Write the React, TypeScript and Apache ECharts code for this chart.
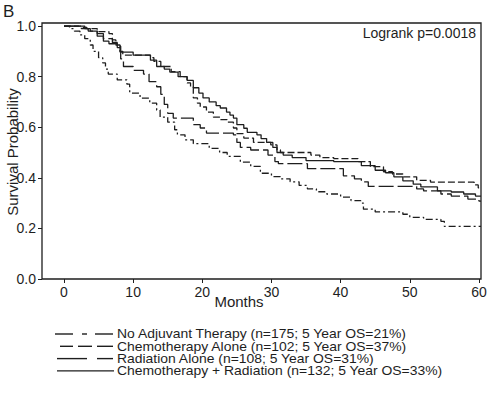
import React, { useEffect, useRef } from "react";
import * as echarts from "echarts";

// Kaplan-Meier step points: [months, survival probability after event]
const noAdjuvant: [number, number][] = [
  [0, 1], [0.8, 0.99], [1.5, 0.98], [2.3, 0.965], [3, 0.95], [3.8, 0.925], [4.2, 0.9],
  [5, 0.875], [5.6, 0.854], [6, 0.83], [6.4, 0.81], [7.7, 0.787], [9.1, 0.77], [9.5, 0.735],
  [11, 0.715], [12.4, 0.695], [13.4, 0.668], [13.9, 0.64], [15, 0.62], [16, 0.59],
  [16.4, 0.57], [17.5, 0.55], [18.7, 0.535], [21, 0.516], [22.5, 0.5], [23.6, 0.485],
  [25.5, 0.462], [27, 0.445], [28.4, 0.418], [30, 0.405], [31.3, 0.396], [32.7, 0.384],
  [34, 0.37], [35.2, 0.356], [36.5, 0.345], [38, 0.336], [40, 0.324], [41.5, 0.31],
  [42.9, 0.3], [43.3, 0.276], [45, 0.265], [49, 0.256], [50, 0.244], [52, 0.236],
  [54.5, 0.228], [55, 0.208], [60.3, 0.208],
];

const chemoAlone: [number, number][] = [
  [0, 1], [2.5, 0.995], [3.3, 0.99], [4.8, 0.978], [6.5, 0.97], [7, 0.945], [7.5, 0.925],
  [8.1, 0.9], [8.5, 0.885], [12.5, 0.875], [13, 0.86], [14, 0.84], [15.5, 0.82],
  [16.8, 0.8], [17.8, 0.775], [18.3, 0.76], [18.7, 0.716], [19.3, 0.695], [19.7, 0.68],
  [20.6, 0.66], [21.6, 0.64], [22.6, 0.63], [23.6, 0.62], [24.5, 0.597], [25, 0.575],
  [26, 0.557], [27.4, 0.54], [29.9, 0.53], [30.8, 0.51], [31.3, 0.5], [35.7, 0.49],
  [37, 0.48], [39, 0.476], [42.5, 0.464], [44.3, 0.444], [46.2, 0.424], [47.5, 0.415],
  [49, 0.404], [51, 0.39], [53, 0.383], [59.3, 0.372], [59.9, 0.36], [60.3, 0.36],
];

const radiationAlone: [number, number][] = [
  [0, 1], [2.5, 0.99], [3.5, 0.98], [4.8, 0.97], [5.7, 0.95], [7, 0.935], [7.7, 0.92],
  [8.2, 0.87], [8.6, 0.84], [10, 0.825], [11.5, 0.81], [12.3, 0.78], [13.4, 0.76],
  [14, 0.73], [14.5, 0.69], [15, 0.655], [15.8, 0.636], [18.7, 0.61], [19.7, 0.597],
  [20.6, 0.577], [24.5, 0.57], [25, 0.54], [25.5, 0.52], [27, 0.51], [29.5, 0.49],
  [30.5, 0.464], [31, 0.456], [35.2, 0.436], [40.4, 0.408], [42, 0.396], [43, 0.384],
  [44, 0.366], [51, 0.356], [52, 0.348], [54.5, 0.336], [56, 0.328], [58.4, 0.316],
  [60, 0.308], [60.3, 0.308],
];

const chemoRadiation: [number, number][] = [
  [0, 1], [3, 0.99], [3.8, 0.98], [4.8, 0.96], [5.7, 0.94], [6.5, 0.93], [7.7, 0.915],
  [8.1, 0.897], [10, 0.885], [12.5, 0.865], [13.4, 0.84], [14.5, 0.83], [15.3, 0.818],
  [16.5, 0.8], [17.8, 0.785], [18.7, 0.756], [19.5, 0.735], [20.1, 0.716], [21, 0.7],
  [22, 0.685], [22.6, 0.676], [23.5, 0.66], [24, 0.648], [24.5, 0.636], [25, 0.61],
  [26, 0.596], [26.5, 0.58], [27.9, 0.57], [28.5, 0.555], [29.3, 0.54], [30.2, 0.52],
  [30.8, 0.5], [31.7, 0.49], [33, 0.48], [35, 0.468], [39, 0.464], [43, 0.448],
  [45, 0.43], [46.5, 0.42], [47.7, 0.404], [49, 0.388], [50.5, 0.375], [51.6, 0.364],
  [54, 0.348], [56, 0.344], [57.8, 0.336], [59.5, 0.328], [60.3, 0.328],
];

const seriesNames = [
  "No Adjuvant Therapy",
  "Chemotherapy Alone",
  "Radiation Alone",
  "Chemotherapy + Radiation",
];
const legendLabels = [
  "No Adjuvant Therapy (n=175; 5 Year OS=21%)",
  "Chemotherapy Alone (n=102; 5 Year OS=37%)",
  "Radiation Alone (n=108; 5 Year OS=31%)",
  "Chemotherapy + Radiation (n=132; 5 Year OS=33%)",
];
const xTicks = [0, 10, 20, 30, 40, 50, 60];
const yTicks = [0, 0.2, 0.4, 0.6, 0.8, 1.0];
const xAxisTitle = "Months";
const yAxisTitle = "Survival Probability";
const panelLetter = "B";
const testLabel = "Logrank p=0.0018";

const FONT = "'Liberation Sans', Arial, Helvetica, sans-serif";
const INK = "#1e1e1e";

export default function App() {
  const ref = useRef<HTMLDivElement>(null);

  useEffect(() => {
    document.body.style.margin = "0";
    const chart = echarts.init(ref.current!, null, { renderer: "svg" });

    const dashes: (number[] | "solid")[] = [[7, 3, 2, 3], [7, 3], [15, 4], "solid"];
    const allData = [noAdjuvant, chemoAlone, radiationAlone, chemoRadiation];

    const legendSegs: [number, number][][] = [
      [[55, 73], [82, 87], [95, 113]],
      [[60, 73], [78, 92], [97, 113]],
      [[57, 87], [97, 113]],
      [[57, 114]],
    ];
    const legendY = [334, 346.3, 358.6, 370.9];

    const graphics: any[] = [];
    legendSegs.forEach((segs, i) => {
      segs.forEach(([a, b]) => {
        graphics.push({
          type: "line",
          shape: { x1: a, y1: legendY[i], x2: b, y2: legendY[i] },
          style: { stroke: INK, lineWidth: 1.4 },
        });
      });
      graphics.push({
        type: "text",
        x: 117,
        y: legendY[i],
        scaleX: 1.16,
        scaleY: 1.08,
        style: {
          text: legendLabels[i],
          font: `12px ${FONT}`,
          fill: INK,
          lineHeight: 11,
          verticalAlign: "middle",
        },
      });
    });

    graphics.push(
      {
        type: "text",
        x: 3,
        y: 3,
        style: { text: panelLetter, font: `17px ${FONT}`, fill: INK },
      },
      {
        type: "text",
        x: 476,
        y: 26,
        style: { text: testLabel, font: `14px ${FONT}`, fill: INK, align: "right" },
      },
      {
        type: "text",
        x: 239,
        y: 301,
        style: {
          text: xAxisTitle,
          font: `15px ${FONT}`,
          fill: INK,
          align: "center",
          verticalAlign: "middle",
        },
      },
      {
        type: "text",
        x: 12,
        y: 152,
        rotation: Math.PI / 2,
        style: {
          text: yAxisTitle,
          font: `15px ${FONT}`,
          fill: INK,
          align: "center",
          verticalAlign: "middle",
        },
      }
    );

    chart.setOption({
      animation: false,
      backgroundColor: "#ffffff",
      grid: {
        left: 42,
        top: 23,
        width: 439,
        height: 256,
        show: true,
        borderColor: INK,
        borderWidth: 1.3,
        backgroundColor: "transparent",
        containLabel: false,
        outerBoundsMode: "none",
      },
      xAxis: {
        type: "value",
        min: -3.18,
        max: 60.3,
        axisLine: { show: false },
        splitLine: { show: false },
        axisTick: {
          show: true,
          length: 4,
          customValues: xTicks,
          lineStyle: { color: INK, width: 1 },
        },
        axisLabel: {
          customValues: xTicks,
          fontFamily: FONT,
          fontSize: 14,
          color: INK,
          margin: 6,
          formatter: (v: number) => String(v),
        },
      },
      yAxis: {
        type: "value",
        min: 0,
        max: 1.012,
        axisLine: { show: false, onZero: false },
        splitLine: { show: false },
        axisTick: {
          show: true,
          length: 4,
          customValues: yTicks,
          lineStyle: { color: INK, width: 1 },
        },
        axisLabel: {
          customValues: yTicks,
          fontFamily: FONT,
          fontSize: 14,
          color: INK,
          margin: 6,
          formatter: (v: number) => v.toFixed(1),
        },
      },
      series: allData.map((d, i) => ({
        name: seriesNames[i],
        type: "line",
        step: "end",
        data: d,
        symbol: "none",
        showSymbol: false,
        clip: true,
        lineStyle: { color: INK, width: 1.3, type: dashes[i] },
      })),
      graphic: graphics,
    });

    return () => chart.dispose();
  }, []);

  return <div ref={ref} style={{ width: 492, height: 395 }} />;
}
